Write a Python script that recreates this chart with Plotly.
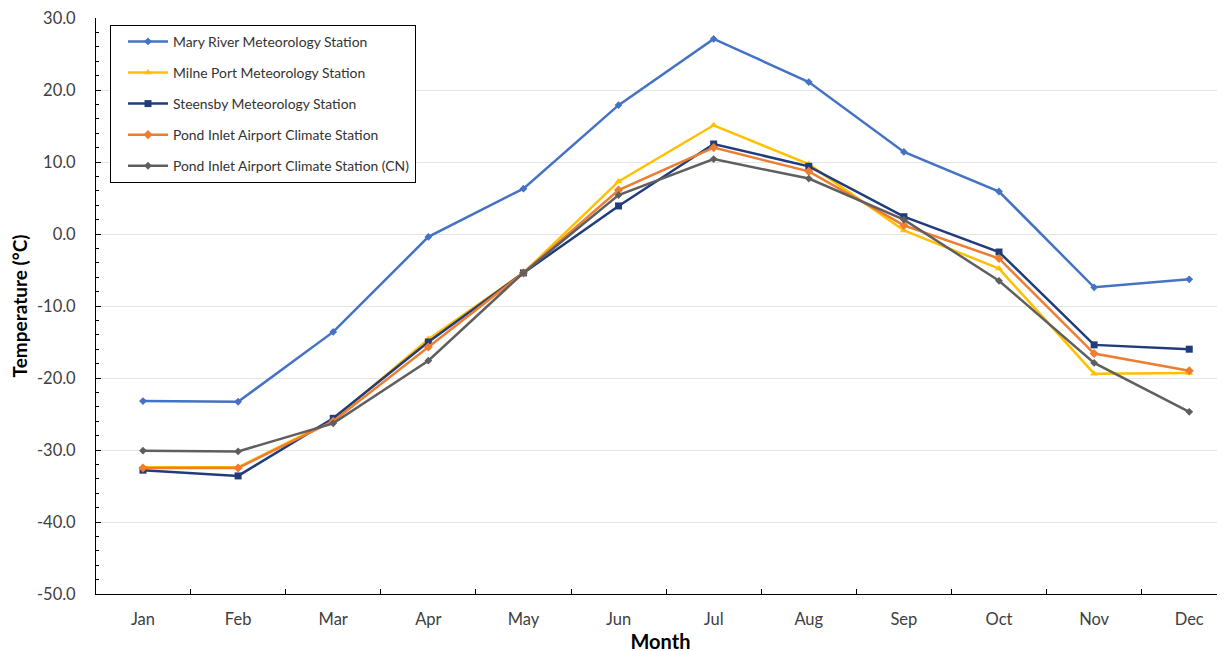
import plotly.graph_objects as go

months = ["Jan", "Feb", "Mar", "Apr", "May", "Jun", "Jul", "Aug", "Sep", "Oct", "Nov", "Dec"]

mary_river = [-23.2, -23.3, -13.6, -0.4, 6.3, 17.9, 27.1, 21.1, 11.4, 5.9, -7.4, -6.3]
milne_port = [-32.4, -32.4, -25.8, -14.6, -5.4, 7.3, 15.1, 9.7, 0.5, -4.8, -19.4, -19.3]
steensby = [-32.8, -33.6, -25.6, -15.0, -5.4, 3.9, 12.5, 9.4, 2.4, -2.5, -15.4, -16.0]
pond_inlet = [-32.5, -32.5, -26.0, -15.7, -5.4, 6.1, 12.0, 8.7, 1.2, -3.4, -16.6, -19.0]
pond_inlet_cn = [-30.1, -30.2, -26.3, -17.6, -5.4, 5.4, 10.4, 7.7, 2.0, -6.5, -17.9, -24.7]

y_tick_values = [30, 20, 10, 0, -10, -20, -30, -40, -50]
y_tick_labels = ["30.0", "20.0", "10.0", "0.0", "-10.0", "-20.0", "-30.0", "-40.0", "-50.0"]

series = [
    ("Mary River Meteorology Station", mary_river, "#4472C4", "diamond", 6),
    ("Milne Port Meteorology Station", milne_port, "#FFC000", "triangle-up", 7),
    ("Steensby Meteorology Station", steensby, "#203C7C", "square", 7),
    ("Pond Inlet Airport Climate Station", pond_inlet, "#ED7D31", "diamond", 7),
    ("Pond Inlet Airport Climate Station (CN)", pond_inlet_cn, "#5F5F5F", "diamond", 6),
]

fig = go.Figure()
for i, (name, vals, color, sym, sz) in enumerate(series):
    fig.add_trace(go.Scatter(
        x=months, y=vals, name=name, mode="lines+markers",
        line=dict(color=color, width=2.5),
        marker=dict(symbol=sym, size=sz, color=color),
        legendgroup=f"g{i}",
    ))

fig.update_layout(
    width=1225, height=651,
    paper_bgcolor="white", plot_bgcolor="white",
    margin=dict(l=88, r=8, t=10, b=65),
    font=dict(family="Lato, Open Sans, sans-serif", color="#404040"),
    showlegend=True,
    legend=dict(
        x=0.0124, y=0.988, xanchor="left", yanchor="top",
        bgcolor="white", bordercolor="black", borderwidth=1,
        font=dict(size=13.9, color="#333333"),
        traceorder="grouped", tracegroupgap=10,
        itemwidth=40, indentation=12,
    ),
    xaxis=dict(
        range=[-0.494, 11.376],
        automargin=False,
        showgrid=False,
        showline=True, linecolor="black", linewidth=1,
        ticks="inside", ticklen=5, tickcolor="black",
        tickson="boundaries",
        ticklabelstandoff=10,
        tickfont=dict(size=16.5, color="#404040"),
        title=dict(text="<b>Month</b>", font=dict(size=20, color="black"), standoff=4),
    ),
    yaxis=dict(
        range=[-50, 30],
        automargin=False,
        tickvals=y_tick_values, ticktext=y_tick_labels,
        ticklabeloverflow="allow",
        showgrid=True, gridcolor="#E4E4E4", gridwidth=1,
        showline=True, linecolor="black", linewidth=1,
        ticks="inside", ticklen=5, tickcolor="black",
        minor=dict(dtick=2, ticks="inside", ticklen=3, tickcolor="black", showgrid=False),
        tickfont=dict(size=16.5, color="#404040"),
        ticklabelstandoff=16,
        zeroline=False,
        title=dict(text="<b>Temperature (°C)</b>", font=dict(size=19, color="black"), standoff=12),
    ),
)

fig.write_html("out.html")
